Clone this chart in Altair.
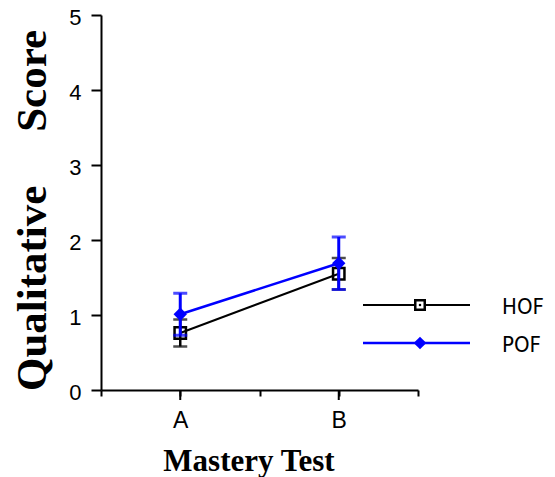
import altair as alt
import pandas as pd

# ---- data ----
tests = ["A", "B"]
axis_slots = ["s", "A", "m", "B", "e"]   # blank slots carry the minor ticks
series = ["HOF", "POF"]
hof_mean = [0.76, 1.55]
hof_err = [0.18, 0.21]
pof_mean = [1.01, 1.69]
pof_err = [0.28, 0.35]
series_colors = ["#000000", "#0000ff"]

rows = []
for s, means, errs in [("HOF", hof_mean, hof_err), ("POF", pof_mean, pof_err)]:
    for t, m, e in zip(tests, means, errs):
        rows.append({"series": s, "test": t, "mean": m, "lo": m - e, "hi": m + e})
df = pd.DataFrame(rows)
ticks_df = pd.DataFrame({"test": tests})
legend_df = pd.DataFrame({"series": series})

x_scale = alt.Scale(type="point", domain=axis_slots, padding=0)
y_scale = alt.Scale(domain=[0, 5], nice=False, zero=True)
y_title = "Qualitative\u00a0\u00a0\u00a0\u00a0\u00a0Score"

x_axis = alt.Axis(
    labelExpr="datum.value == 'A' || datum.value == 'B' ? datum.value : ''",
    labelAngle=0, tickSize=6, labelPadding=13,
    labelFont="Liberation Sans", labelFontSize=23, labelColor="black",
    titleFont="Liberation Serif", titleFontWeight="bold", titleColor="black",
    titleFontSize=31, titleX=147.5, titleY=80, titleBaseline="alphabetic",
    titleAlign="center",
)
y_axis = alt.Axis(
    values=[0, 1, 2, 3, 4, 5], tickSize=10, labelPadding=10, labelOffset=2.5,
    labelFont="Liberation Sans", labelFontSize=22, labelColor="black",
    titleFont="Liberation Serif", titleFontWeight="bold", titleColor="black",
    titleFontSize=43, titleX=-56, titleY=195, titleBaseline="alphabetic",
    titleAngle=270, titleAlign="center",
)


def X():
    return alt.X("test:O", scale=x_scale, axis=x_axis, title="Mastery Test")


def Y(field):
    return alt.Y(f"{field}:Q", scale=y_scale, axis=y_axis, title=y_title)


layers = []
# longer major ticks under A and B
layers.append(
    alt.Chart(ticks_df).mark_rule(color="black", strokeWidth=2).encode(
        x=X(), y=alt.value(375), y2=alt.value(385)
    )
)

for s, c in zip(series, series_colors):
    d = alt.Chart(df).transform_filter(alt.datum.series == s)
    lw = 2 if s == "HOF" else 2.5
    layers.append(d.mark_line(color=c, strokeWidth=lw).encode(x=X(), y=Y("mean")))
    layers.append(d.mark_rule(color=c, strokeWidth=lw + 0.5).encode(x=X(), y=Y("lo"), y2="hi:Q"))
    layers.append(d.mark_tick(color=c, size=14, thickness=lw + 0.5).encode(x=X(), y=Y("lo")))
    layers.append(d.mark_tick(color=c, size=14, thickness=lw + 0.5).encode(x=X(), y=Y("hi")))
    if s == "HOF":
        layers.append(d.mark_point(shape="square", filled=False, color=c, strokeWidth=2.5,
                                   size=130, opacity=1).encode(x=X(), y=Y("mean")))
    else:
        layers.append(d.mark_point(shape="diamond", filled=True, color=c, size=180,
                                   opacity=1).encode(x=X(), y=Y("mean")))

# manual legend
legend_y = {"HOF": 290, "POF": 328}
for s, c in zip(series, series_colors):
    l = alt.Chart(legend_df).transform_filter(alt.datum.series == s)
    ly = legend_y[s]
    layers.append(l.mark_rule(color=c, strokeWidth=2 if s == "HOF" else 2.5).encode(
        x=alt.value(262), x2=alt.value(369), y=alt.value(ly)))
    if s == "HOF":
        layers.append(l.mark_point(shape="square", filled=True, fill="white", stroke=c,
                                   strokeWidth=2.5, size=90, opacity=1).encode(
            x=alt.value(319), y=alt.value(ly)))
        layers.append(l.mark_point(shape="square", filled=True, color=c, size=5, opacity=1).encode(
            x=alt.value(319), y=alt.value(ly)))
    else:
        layers.append(l.mark_point(shape="diamond", filled=True, color=c, size=160, opacity=1).encode(
            x=alt.value(319), y=alt.value(ly)))
    layers.append(l.mark_text(align="left", baseline="middle",
                              font="DejaVu Sans Condensed, Liberation Sans",
                              fontSize=22, color="black").encode(
        x=alt.value(401), y=alt.value(ly + 2), text="series:N"))

chart = alt.layer(*layers).properties(
    width=317, height=375,
    autosize=alt.AutoSizeParams(type="none"),
    padding={"left": 93, "top": 7, "right": 129, "bottom": 90},
).configure_view(stroke=None).configure_axis(
    domainColor="black", domainWidth=2, tickColor="black", tickWidth=2, grid=False,
)

chart.save("out.html", embed_options={"renderer": "svg", "actions": False})
